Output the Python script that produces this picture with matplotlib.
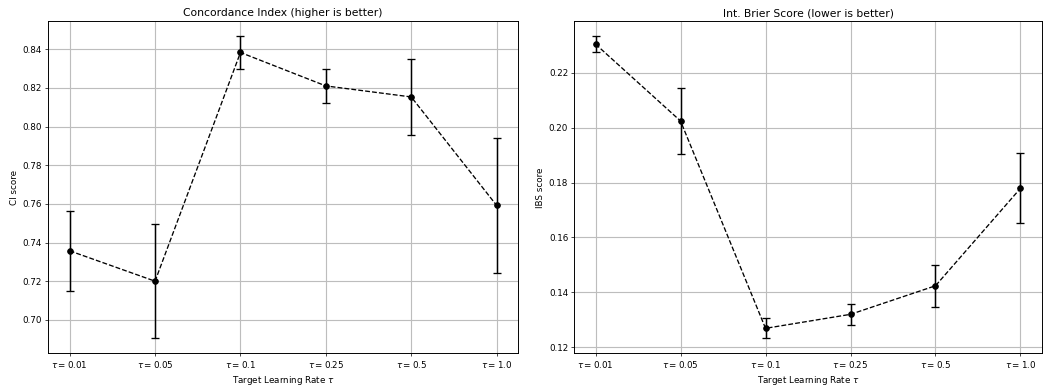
import numpy as np
import matplotlib
matplotlib.use("Agg")
import matplotlib.pyplot as plt

# --- Data ---
tau_labels = ["0.01", "0.05", "0.1", "0.25", "0.5", "1.0"]
ci_mean = [0.7357, 0.7200, 0.8383, 0.8210, 0.8153, 0.7592]
ci_err  = [0.0206, 0.0295, 0.0083, 0.0090, 0.0198, 0.0350]
ibs_mean = [0.2304, 0.2024, 0.1269, 0.1320, 0.1424, 0.1779]
ibs_err  = [0.0028, 0.0121, 0.0036, 0.0039, 0.0077, 0.0127]

tick_text = [r"$\tau = %s$" % t for t in tau_labels]
x = np.arange(len(tau_labels))

DPI = 63
plt.rcParams["axes.linewidth"] = 1.1

fig = plt.figure(figsize=(1053 / DPI, 388 / DPI), dpi=DPI)
ax1 = fig.add_axes([0.0459, 0.0894, 0.4460, 0.8556])
ax2 = fig.add_axes([0.5454, 0.0894, 0.4439, 0.8556])

panels = [
    (ax1, ci_mean, ci_err, "Concordance Index (higher is better)", "CI score"),
    (ax2, ibs_mean, ibs_err, "Int. Brier Score (lower is better)", "IBS score"),
]
for ax, m, e, title, ylab in panels:
    ax.errorbar(x, m, yerr=e, fmt="o--", color="k", ecolor="k",
                capsize=5, markersize=6.5, elinewidth=1.7, capthick=1.5)
    ax.set_xticks(x)
    ax.set_xticklabels(tick_text)
    ax.set_xlabel(r"Target Learning Rate $\tau$")
    ax.set_ylabel(ylab)
    ax.set_title(title, fontsize=12.3)
    ax.grid(True, color="#bdbdbd", linewidth=1.3)
    ax.set_axisbelow(True)

fig.savefig("out.png", dpi=DPI)
